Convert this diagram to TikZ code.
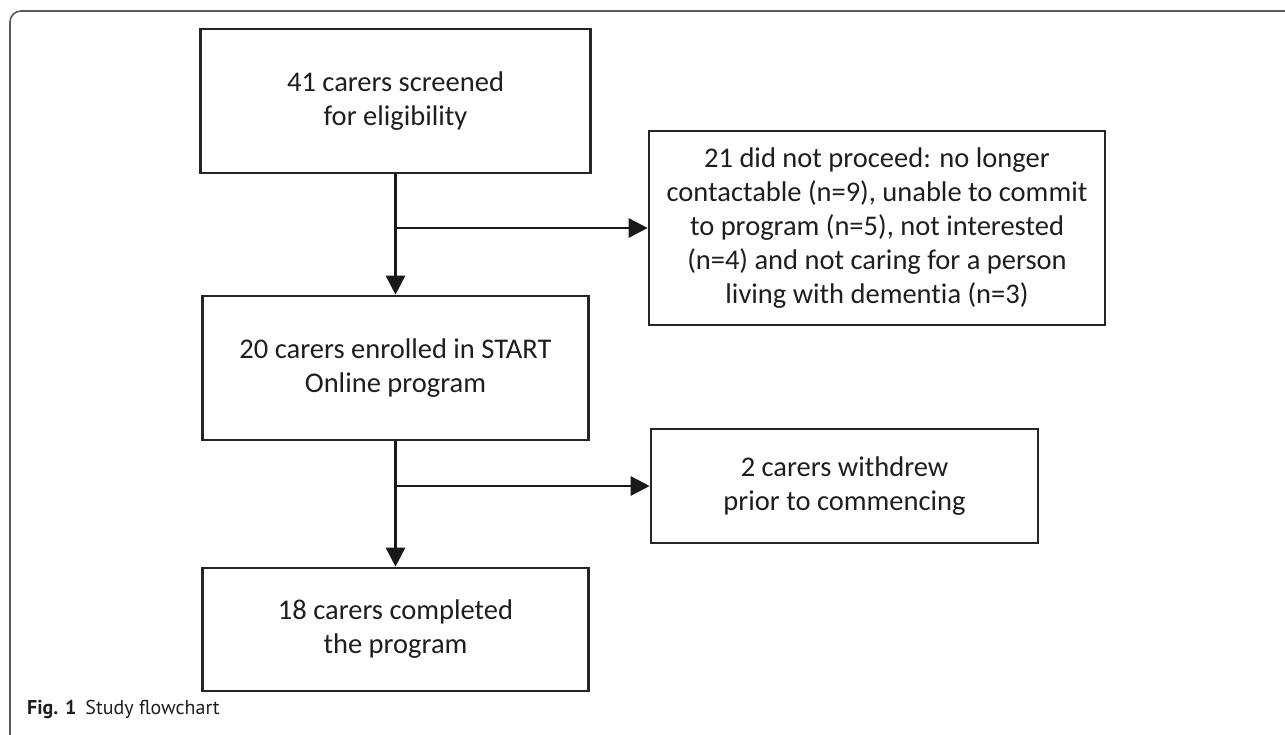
\documentclass[tikz,border=0pt]{standalone}
\usepackage{fontspec}
\setmainfont{Carlito}[Ligatures=NoCommon]
\newfontfamily\capfont{PT Sans}
\usetikzlibrary{arrows.meta}
\definecolor{txt}{HTML}{1E1E1E}
\definecolor{frame}{HTML}{5A5A5A}
\begin{document}
\begin{tikzpicture}[x=1pt,y=-1pt,
  box/.style={draw=black!85, line width=2.6pt, text=txt, align=center,
    inner sep=0pt, font=\fontsize{28.5}{34}\selectfont},
  conn/.style={line width=2.6pt, draw=black!90, -{Triangle[width=19pt,length=19pt]}},
  plain/.style={line width=2.6pt, draw=black!90}]
\useasboundingbox (0,0) rectangle (1285,734);
\begin{scope}
\clip (0,0) rectangle (1285,734);
\draw[frame, line width=1.6pt, rounded corners=11pt] (10,11) rectangle (1310,760);
\end{scope}
% boxes
\node[box, minimum width=390pt, minimum height=144pt] (b1) at (395.5,101) {41 carers screened\\for eligibility};
\node[box, minimum width=386pt, minimum height=144pt] (b2) at (395.5,368) {20 carers enrolled in START\\Online program};
\node[box, minimum width=386pt, minimum height=123pt] (b3) at (395.5,629.5) {18 carers completed\\the program};
\node[box, minimum width=456pt, minimum height=194pt] (r1) at (877,228) {21 did not proceed: no longer\\contactable (n=9), unable to commit\\to program (n=5), not interested\\(n=4) and not caring for a person\\living with dementia (n=3)};
\node[box, minimum width=387pt, minimum height=114pt] (r2) at (844.5,486) {2 carers withdrew\\prior to commencing};
% connectors
\draw[conn] (b1.south) -- (b2.north);
\coordinate (j1) at (b1.south |- r1.west);
\draw[conn] (j1) -- (r1.west);
\draw[conn] (b2.south) -- (b3.north);
\coordinate (j2) at (b2.south |- r2.west);
\draw[conn] (j2) -- (r2.west);
% caption
\node[anchor=base west, inner sep=0pt, text=txt, font=\capfont\fontsize{20}{24}\selectfont] (cap) at (27,714) {\textbf{Fig. 1}\hspace{9pt}Study flowchart};
\end{tikzpicture}
\end{document}
